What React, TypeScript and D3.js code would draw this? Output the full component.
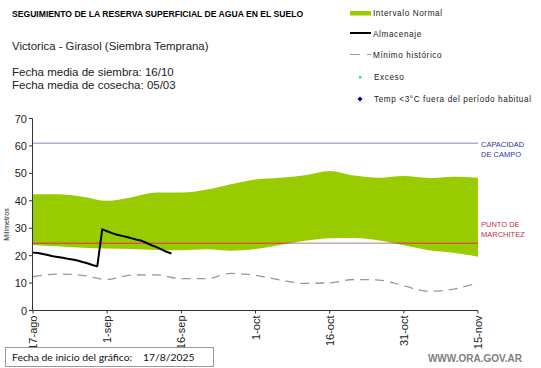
import * as d3 from 'd3';

const W = 541;
const H = 368;
const FONT = 'Liberation Sans, Arial, sans-serif';

const startDate = new Date(2025, 7, 17);
const tickLabels = ['17-ago', '1-sep', '16-sep', '1-oct', '16-oct', '31-oct', '15-nov'];
const tickDays = [0, 15, 30, 45, 60, 75, 90];
const yTicks = [0, 10, 20, 30, 40, 50, 60, 70];

// normal interval band (days since start)
const bandDays = [0, 5, 10, 15, 20, 25, 30, 35, 40, 45, 50, 55, 60, 65, 70, 75, 80, 85, 90];
const bandUpper = [42.4, 42.4, 41.5, 40.0, 41.3, 43.0, 43.0, 44.0, 46.0, 47.8, 48.4, 49.3, 50.9, 49.2, 48.4, 49.0, 48.3, 48.8, 48.4];
const bandLower = [23.9, 23.4, 22.9, 22.6, 22.4, 22.1, 22.0, 22.3, 21.8, 22.4, 23.9, 25.4, 26.3, 26.4, 25.5, 23.8, 22.0, 21.1, 19.6];

// historical minimum
const minDays = bandDays;
const minValues = [12.3, 13.3, 12.8, 11.3, 12.9, 13.0, 11.6, 11.6, 13.5, 12.8, 11.1, 9.9, 10.1, 11.3, 11.1, 9.0, 7.0, 7.8, 10.1];

// storage (daily)
const storeValues = [21.1, 21.0, 20.6, 20.2, 19.8, 19.5, 19.2, 18.9, 18.6, 18.2, 17.7, 17.2, 16.6, 16.1, 29.6, 28.9, 28.2, 27.6, 27.2, 26.8, 26.3, 25.8, 25.4, 24.6, 23.8, 23.1, 22.3, 21.4, 20.8];

const capacidad = 61;
const marchitez = 24.5;

export default function App() {
  const day = (d: number) => d3.timeDay.offset(startDate, d);
  const x = d3.scaleTime().domain([day(0), day(90)]).range([33, 478]);
  const y = d3.scaleLinear().domain([0, 70]).range([310.5, 118.5]);

  const band = bandDays.map((d, i) => ({ date: day(d), lo: bandLower[i], hi: bandUpper[i] }));
  const area = d3.area<{ date: Date; lo: number; hi: number }>()
    .x((d) => x(d.date)).y0((d) => y(d.lo)).y1((d) => y(d.hi))
    .curve(d3.curveMonotoneX);
  const bandPath = area(band) ?? '';

  const minLine = d3.line<number>()
    .x((_, i) => x(day(minDays[i]))).y((v) => y(v))
    .curve(d3.curveMonotoneX)(minValues) ?? '';

  const storeLine = d3.line<number>()
    .x((_, i) => x(day(i))).y((v) => y(v))(storeValues) ?? '';

  const x0 = x(day(0));
  const x1 = x(day(90));

  return (
    <svg width={W} height={H} style={{ position: 'absolute', left: 0, top: 0, background: '#fff' }} fontFamily={FONT}>
      <defs>
        <clipPath id="bandClip">
          <path d={bandPath} />
        </clipPath>
      </defs>

      {/* header */}
      <text x={12} y={17} fontSize={8.6} fontWeight="bold" fill="#000">SEGUIMIENTO DE LA RESERVA SUPERFICIAL DE AGUA EN EL SUELO</text>
      <text x={12} y={50} fontSize={11.4} fill="#222">Victorica - Girasol (Siembra Temprana)</text>
      <text x={12} y={76} fontSize={11.5} fill="#222">Fecha media de siembra: 16/10</text>
      <text x={12} y={89} fontSize={11.5} fill="#222">Fecha media de cosecha: 05/03</text>

      {/* legend */}
      <g fontSize={8.2} fill="#222" letterSpacing={0.6}>
        <rect x={350} y={11} width={21} height={4.5} fill="#99cc00" />
        <text x={373} y={16}>Intervalo Normal</text>
        <line x1={350} x2={371} y1={33} y2={33} stroke="#000" strokeWidth={2} />
        <text x={373} y={37}>Almacenaje</text>
        <line x1={350} x2={371} y1={54.5} y2={54.5} stroke="#999" strokeWidth={1} strokeDasharray="10,7" />
        <text x={373} y={58}>Mínimo histórico</text>
        <rect x={359} y={76} width={2.5} height={2.5} fill="#33cccc" />
        <text x={374} y={80}>Exceso</text>
        <path d="M360,96.5 L362.5,99 L360,101.5 L357.5,99 Z" fill="#000099" />
        <text x={374} y={102}>Temp &lt;3°C fuera del período habitual</text>
      </g>

      {/* band */}
      <path d={bandPath} fill="#99cc00" />

      {/* reference lines */}
      <line x1={x0} x2={x1} y1={y(capacidad)} y2={y(capacidad)} stroke="#7f8fb8" strokeWidth={1} />
      <line x1={x0} x2={x1} y1={y(marchitez)} y2={y(marchitez)} stroke="#d8a2b4" strokeWidth={1.6} />
      <line x1={x0} x2={x1} y1={y(marchitez)} y2={y(marchitez)} stroke="#c4661a" strokeWidth={1.6} clipPath="url(#bandClip)" />

      {/* historical minimum */}
      <path d={minLine} fill="none" stroke="#999" strokeWidth={1.3} strokeDasharray="9,6" />

      {/* storage */}
      <path d={storeLine} fill="none" stroke="#000" strokeWidth={2} strokeLinejoin="round" />

      {/* right labels */}
      <g fontSize={7.5} fill="#33339a">
        <text x={481} y={147}>CAPACIDAD</text>
        <text x={481} y={157}>DE  CAMPO</text>
      </g>
      <g fontSize={7.5} fill="#c0304a">
        <text x={481} y={227}>PUNTO  DE</text>
        <text x={481} y={237}>MARCHITEZ</text>
      </g>

      {/* y axis */}
      <line x1={32.5} x2={32.5} y1={y(70)} y2={y(0)} stroke="#333" />
      {yTicks.map((t) => (
        <g key={t}>
          <line x1={29} x2={32.5} y1={y(t)} y2={y(t)} stroke="#333" />
          <text x={27} y={y(t) + 4} fontSize={11} textAnchor="end" fill="#222">{t}</text>
        </g>
      ))}
      <text transform={`translate(9,${(y(0) + y(70)) / 2 + 10}) rotate(-90)`} fontSize={7} textAnchor="middle" fill="#222">Milímetros</text>

      {/* x axis */}
      <line x1={32.5} x2={x1} y1={y(0)} y2={y(0)} stroke="#333" />
      {tickDays.map((d, i) => {
        const tx = x(day(d));
        return (
          <g key={d}>
            <line x1={tx} x2={tx} y1={y(0)} y2={y(0) + 3} stroke="#333" />
            <text transform={`translate(${tx + 4},${y(0) + 5}) rotate(-90)`} fontSize={11} textAnchor="end" fill="#222">{tickLabels[i]}</text>
          </g>
        );
      })}

      {/* footer */}
      <rect x={5.5} y={347.5} width={208} height={19} fill="#fff" stroke="#999" />
      <text x={12} y={361} fontSize={10.4} fontFamily="Lato, sans-serif" fill="#111">Fecha de inicio del gráfico:</text>
      <text x={143} y={361} fontSize={10.4} fontFamily="Lato, sans-serif" fill="#111">17/8/2025</text>
      <text x={522} y={362} fontSize={10} fontWeight="bold" textAnchor="end" fill="#808080">WWW.ORA.GOV.AR</text>
    </svg>
  );
}
